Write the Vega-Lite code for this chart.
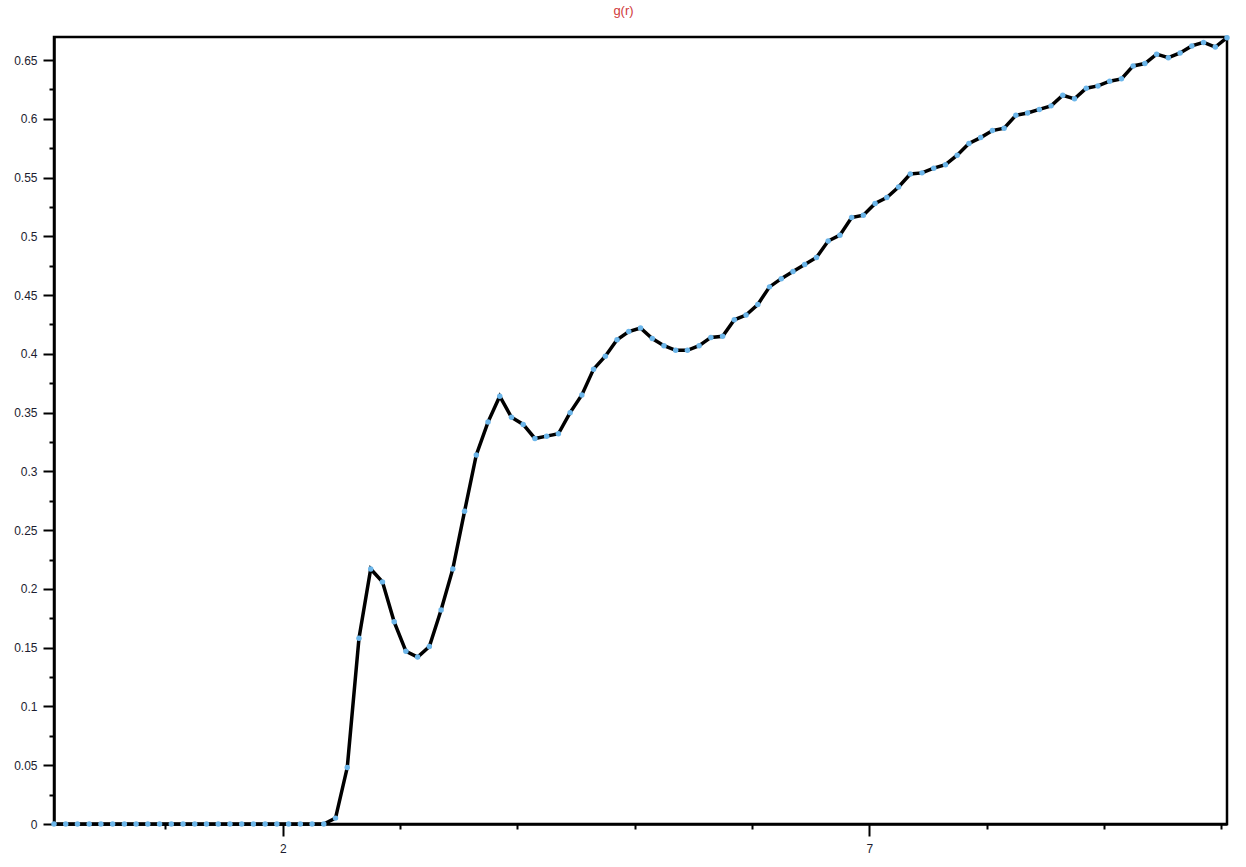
{
  "$schema": "https://vega.github.io/schema/vega-lite/v6.json",
  "width": 1173,
  "height": 787,
  "autosize": {"type": "none"},
  "padding": {"left": 54, "top": 37, "right": 19, "bottom": 43},
  "background": "white",
  "title": {"text": "g(r)", "color": "#d03a3a", "font": "Liberation Sans", "fontSize": 13, "fontWeight": "normal", "offset": 13, "dx": -17},
  "data": {"values": [
    {"r": 0.05, "g": 0}, {"r": 0.15, "g": 0}, {"r": 0.25, "g": 0}, {"r": 0.35, "g": 0}, {"r": 0.45, "g": 0},
    {"r": 0.55, "g": 0}, {"r": 0.65, "g": 0}, {"r": 0.75, "g": 0}, {"r": 0.85, "g": 0}, {"r": 0.95, "g": 0},
    {"r": 1.05, "g": 0}, {"r": 1.15, "g": 0}, {"r": 1.25, "g": 0}, {"r": 1.35, "g": 0}, {"r": 1.45, "g": 0},
    {"r": 1.55, "g": 0}, {"r": 1.65, "g": 0}, {"r": 1.75, "g": 0}, {"r": 1.85, "g": 0}, {"r": 1.95, "g": 0},
    {"r": 2.05, "g": 0}, {"r": 2.15, "g": 0}, {"r": 2.25, "g": 0}, {"r": 2.35, "g": 0},
    {"r": 2.45, "g": 0.005}, {"r": 2.55, "g": 0.048}, {"r": 2.65, "g": 0.158}, {"r": 2.75, "g": 0.217},
    {"r": 2.85, "g": 0.206}, {"r": 2.95, "g": 0.172}, {"r": 3.05, "g": 0.147}, {"r": 3.15, "g": 0.142},
    {"r": 3.25, "g": 0.151}, {"r": 3.35, "g": 0.182}, {"r": 3.45, "g": 0.217}, {"r": 3.55, "g": 0.266},
    {"r": 3.65, "g": 0.314}, {"r": 3.75, "g": 0.342}, {"r": 3.85, "g": 0.364}, {"r": 3.95, "g": 0.346},
    {"r": 4.05, "g": 0.34}, {"r": 4.15, "g": 0.328}, {"r": 4.25, "g": 0.33}, {"r": 4.35, "g": 0.332},
    {"r": 4.45, "g": 0.35}, {"r": 4.55, "g": 0.365}, {"r": 4.65, "g": 0.387}, {"r": 4.75, "g": 0.398},
    {"r": 4.85, "g": 0.412}, {"r": 4.95, "g": 0.419}, {"r": 5.05, "g": 0.422}, {"r": 5.15, "g": 0.413},
    {"r": 5.25, "g": 0.407}, {"r": 5.35, "g": 0.403}, {"r": 5.45, "g": 0.403}, {"r": 5.55, "g": 0.407},
    {"r": 5.65, "g": 0.414}, {"r": 5.75, "g": 0.415}, {"r": 5.85, "g": 0.429}, {"r": 5.95, "g": 0.433},
    {"r": 6.05, "g": 0.442}, {"r": 6.15, "g": 0.457}, {"r": 6.25, "g": 0.464}, {"r": 6.35, "g": 0.47},
    {"r": 6.45, "g": 0.476}, {"r": 6.55, "g": 0.482}, {"r": 6.65, "g": 0.496}, {"r": 6.75, "g": 0.501},
    {"r": 6.85, "g": 0.516}, {"r": 6.95, "g": 0.518}, {"r": 7.05, "g": 0.528}, {"r": 7.15, "g": 0.533},
    {"r": 7.25, "g": 0.542}, {"r": 7.35, "g": 0.553}, {"r": 7.45, "g": 0.554}, {"r": 7.55, "g": 0.558},
    {"r": 7.65, "g": 0.561}, {"r": 7.75, "g": 0.569}, {"r": 7.85, "g": 0.579}, {"r": 7.95, "g": 0.584},
    {"r": 8.05, "g": 0.59}, {"r": 8.15, "g": 0.592}, {"r": 8.25, "g": 0.603}, {"r": 8.35, "g": 0.605},
    {"r": 8.45, "g": 0.608}, {"r": 8.55, "g": 0.611}, {"r": 8.65, "g": 0.62}, {"r": 8.75, "g": 0.617},
    {"r": 8.85, "g": 0.626}, {"r": 8.95, "g": 0.628}, {"r": 9.05, "g": 0.632}, {"r": 9.15, "g": 0.634},
    {"r": 9.25, "g": 0.645}, {"r": 9.35, "g": 0.647}, {"r": 9.45, "g": 0.655}, {"r": 9.55, "g": 0.652},
    {"r": 9.65, "g": 0.656}, {"r": 9.75, "g": 0.662}, {"r": 9.85, "g": 0.665}, {"r": 9.95, "g": 0.661},
    {"r": 10.05, "g": 0.669}
  ]},
  "layer": [
    {
      "mark": {"type": "point", "opacity": 0},
      "encoding": {
        "x": {"field": "r", "type": "quantitative", "scale": {"domain": [0.05, 10.05], "nice": false, "zero": false},
              "axis": {"orient": "bottom", "values": [1, 3, 4, 5, 6, 8, 9, 10], "labels": false, "tickSize": 5, "domain": false, "title": null, "grid": false}},
        "y": {"field": "g", "type": "quantitative", "scale": {"domain": [0, 0.6696], "nice": false, "zero": false},
              "axis": {"orient": "left", "values": [0.025, 0.075, 0.125, 0.175, 0.225, 0.275, 0.325, 0.375, 0.425, 0.475, 0.525, 0.575, 0.625], "labels": false, "tickSize": 5, "domain": false, "title": null, "grid": false}}
      }
    },
    {
      "layer": [
        {"mark": {"type": "line", "color": "black", "strokeWidth": 3.5, "clip": false}, "encoding": {}},
        {"mark": {"type": "circle", "color": "#6cb6ea", "opacity": 1, "size": 30, "clip": false}, "encoding": {}}
      ],
      "encoding": {
        "x": {"field": "r", "type": "quantitative",
              "axis": {"orient": "bottom", "values": [2, 7], "format": "~g", "tickSize": 12, "labelPadding": 7, "domain": true, "title": null, "grid": false}},
        "y": {"field": "g", "type": "quantitative",
              "axis": {"orient": "left", "values": [0, 0.05, 0.1, 0.15, 0.2, 0.25, 0.3, 0.35, 0.4, 0.45, 0.5, 0.55, 0.6, 0.65], "format": "~g", "tickSize": 11, "labelPadding": 6, "domain": true, "title": null, "grid": false}}
      }
    }
  ],
  "resolve": {"axis": {"x": "independent", "y": "independent"}},
  "config": {
    "view": {"stroke": "black", "strokeWidth": 2.5},
    "axis": {
      "domainColor": "black", "domainWidth": 2.5,
      "tickColor": "black", "tickWidth": 2,
      "labelFont": "Liberation Sans", "labelFontSize": 12, "labelColor": "#1c1c30",
      "grid": false
    }
  }
}
